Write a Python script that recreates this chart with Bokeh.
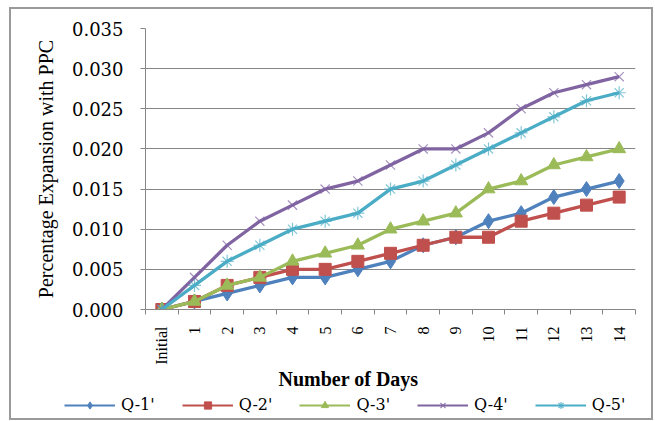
import math
from bokeh.plotting import figure
from bokeh.layouts import column, row
from bokeh.models import (Range1d, FixedTicker, NumeralTickFormatter, Legend, LegendItem,
                          Title, ColumnDataSource)
from bokeh.embed import file_html
from bokeh.resources import INLINE

days = ["Initial", "1", "2", "3", "4", "5", "6", "7", "8", "9", "10", "11", "12", "13", "14"]
q1 = [0, 0.001, 0.002, 0.003, 0.004, 0.004, 0.005, 0.006, 0.008, 0.009, 0.011, 0.012, 0.014, 0.015, 0.016]
q2 = [0, 0.001, 0.003, 0.004, 0.005, 0.005, 0.006, 0.007, 0.008, 0.009, 0.009, 0.011, 0.012, 0.013, 0.014]
q3 = [0, 0.001, 0.003, 0.004, 0.006, 0.007, 0.008, 0.010, 0.011, 0.012, 0.015, 0.016, 0.018, 0.019, 0.020]
q4 = [0, 0.004, 0.008, 0.011, 0.013, 0.015, 0.016, 0.018, 0.020, 0.020, 0.022, 0.025, 0.027, 0.028, 0.029]
q5 = [0, 0.003, 0.006, 0.008, 0.010, 0.011, 0.012, 0.015, 0.016, 0.018, 0.020, 0.022, 0.024, 0.026, 0.027]
series_names = ["Q-1'", "Q-2'", "Q-3'", "Q-4'", "Q-5'"]
y_ticks = [0.0, 0.005, 0.010, 0.015, 0.020, 0.025, 0.030, 0.035]

SERIF = "Liberation Serif"
WIDE = "DejaVu Serif"

pos = list(range(len(days)))

p = figure(width=640, height=386, output_backend="svg", toolbar_location=None,
           x_range=Range1d(-0.5, len(days) - 0.5), y_range=Range1d(0, 0.035),
           min_border_left=134, min_border_right=16, min_border_top=19, min_border_bottom=86)
p.outline_line_color = None
p.background_fill_color = "white"
p.border_fill_color = "white"

# x axis: labels at category centres, tick marks at category boundaries
xa = p.xaxis[0]
xa.ticker = FixedTicker(ticks=pos, minor_ticks=[i - 0.5 for i in range(len(days) + 1)])
xa.major_label_overrides = {i: d for i, d in zip(pos, days)}
xa.major_label_orientation = math.pi / 2
xa.major_tick_out = 0
xa.major_tick_in = 0
xa.minor_tick_out = 5
xa.minor_tick_in = 0
xa.minor_tick_line_color = "#868686"
xa.axis_line_color = "#868686"
xa.major_label_text_font = SERIF
xa.major_label_text_font_size = "16px"
xa.major_label_text_color = "black"
xa.major_label_standoff = 12

ya = p.yaxis[0]
ya.ticker = FixedTicker(ticks=y_ticks)
ya.formatter = NumeralTickFormatter(format="0.000")
ya.major_tick_out = 5
ya.major_tick_in = 0
ya.minor_tick_out = 0
ya.minor_tick_in = 0
ya.major_tick_line_color = "#868686"
ya.axis_line_color = "#868686"
ya.major_label_text_font = WIDE
ya.major_label_text_font_size = "18px"
ya.major_label_text_color = "black"
ya.major_label_standoff = 17
ya.axis_label = "Percentage Expansion with PPC"
ya.axis_label_text_font = SERIF
ya.axis_label_text_font_style = "normal"
ya.axis_label_text_font_size = "20px"
ya.axis_label_text_color = "black"
ya.axis_label_standoff = 12

p.xgrid.grid_line_color = None
p.ygrid.ticker = FixedTicker(ticks=y_ticks)
p.ygrid.grid_line_color = "#868686"
p.ygrid.grid_line_width = 1

colors = ["#4F81BD", "#C0504D", "#9BBB59", "#8064A2", "#4BACC6"]
markers = ["diamond", "square", "triangle", "x", "asterisk"]
sizes = [15, 12, 13, 13, 13]
data = [q1, q2, q3, q4, q5]

# legend strip: a small figure below the chart whose data lie outside its view
leg = figure(width=640, height=23, output_backend="svg", toolbar_location=None,
             x_range=Range1d(-0.5, len(days) - 0.5), y_range=Range1d(1, 2),
             x_axis_type=None, y_axis_type=None,
             min_border_left=0, min_border_right=0, min_border_top=0, min_border_bottom=0)
leg.outline_line_color = None
leg.xgrid.grid_line_color = None
leg.ygrid.grid_line_color = None
leg.background_fill_color = "white"
leg.border_fill_color = "white"

items = []
for name, vals, c, m, s in zip(series_names, data, colors, markers, sizes):
    src = ColumnDataSource(dict(x=pos, y=vals))
    p.line("x", "y", source=src, line_color=c, line_width=3.3)
    if m in ("x", "asterisk"):
        p.scatter("x", "y", source=src, marker=m, size=s, line_color=c,
                  line_alpha=0.7, line_width=1.2)
    else:
        p.scatter("x", "y", source=src, marker=m, size=s, fill_color=c,
                  line_color=c, line_width=1)
    l1 = leg.line("x", "y", source=src, line_color=c, line_width=2.2)
    if m in ("x", "asterisk"):
        l2 = leg.scatter("x", "y", source=src, marker=m, size=11, line_color=c,
                         line_alpha=0.8, line_width=1.2)
    else:
        l2 = leg.scatter("x", "y", source=src, marker=m, size=12 if m == "diamond" else 10,
                         fill_color=c, line_color=c, line_width=1)
    items.append(LegendItem(label=name, renderers=[l1, l2]))

xtitle = Title(text="Number of Days", align="left", offset=133, standoff=0,
               vertical_align="top",
               text_font=SERIF, text_font_style="bold", text_font_size="20px",
               text_color="black")
p.add_layout(xtitle, "below")

# legend left edge 64px from page left = 53px inside the strip's canvas
legend = Legend(items=items, orientation="horizontal", location=(53, 4),
                glyph_width=51, glyph_height=18, label_standoff=6, spacing=27,
                padding=0, margin=0, border_line_color=None, background_fill_alpha=0,
                label_text_font=WIDE, label_text_font_size="16px",
                label_text_color="black", label_height=18)
leg.add_layout(legend, "center")

layout = column(p, row(leg), spacing=0,
                styles={"border": "2px solid #9a9a9a", "margin-left": "9px", "margin-top": "7px"})

open("out.html", "w").write(file_html(layout, INLINE))
